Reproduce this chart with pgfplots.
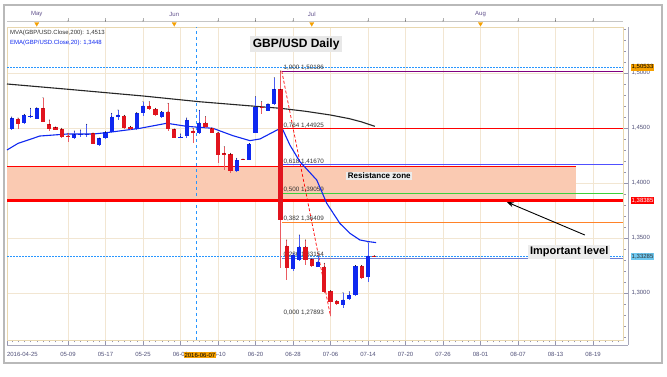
\documentclass[border=0pt]{standalone}
\usepackage{pgfplots}
\pgfplotsset{compat=1.18}
\usepackage{pgfplotstable}
\usepackage{fontspec}
\setmainfont{Liberation Sans}
\usetikzlibrary{arrows.meta}

\definecolor{cblue}{RGB}{15,40,240}
\definecolor{cred}{RGB}{225,20,30}
\definecolor{gridc}{RGB}{242,230,210}
\definecolor{framec}{RGB}{232,215,175}
\definecolor{zonec}{RGB}{250,202,178}
\definecolor{fibpurple}{RGB}{128,0,128}
\definecolor{fibblue}{RGB}{80,80,255}
\definecolor{fibgreen}{RGB}{60,210,60}
\definecolor{fiborange}{RGB}{255,130,40}
\definecolor{fibslate}{RGB}{110,125,210}
\definecolor{labc}{RGB}{80,80,120}
\definecolor{selorange}{RGB}{245,160,0}
\definecolor{curblue}{RGB}{40,150,255}
\definecolor{curbox}{RGB}{110,200,240}
\definecolor{monthc}{RGB}{96,80,140}

\pgfplotstableread{
i o c h l
1 1.4490 1.4588 1.4600 1.4480
3 1.4548 1.4618 1.4625 1.4540
4 1.4603 1.4612 1.4679 1.4594
5 1.4582 1.4679 1.4685 1.4578
11 1.4412 1.4443 1.4473 1.4400
12 1.4436 1.4446 1.4482 1.4421
13 1.4436 1.4446 1.4534 1.4421
15 1.4345 1.4406 1.4410 1.4340
16 1.4406 1.4461 1.4465 1.4400
17 1.4461 1.4603 1.4634 1.4455
18 1.4603 1.4618 1.4664 1.4573
21 1.4488 1.4633 1.4640 1.4480
22 1.4633 1.4700 1.4739 1.4612
25 1.4603 1.4648 1.4650 1.4588
28 1.4412 1.4421 1.4445 1.4405
29 1.4427 1.4573 1.4590 1.4412
31 1.4452 1.4548 1.4661 1.4442
37 1.4112 1.4209 1.4224 1.4103
39 1.4209 1.4355 1.4360 1.4205
40 1.4458 1.4694 1.4785 1.4452
42 1.4655 1.4715 1.4720 1.4650
43 1.4715 1.4852 1.4957 1.4710
46 1.3215 1.3345 1.3360 1.3200
47 1.3300 1.3421 1.3527 1.3290
50 1.3239 1.3285 1.3336 1.3235
54 1.2891 1.2936 1.3003 1.2861
55 1.2943 1.2982 1.3012 1.2940
56 1.2982 1.3245 1.3250 1.2975
58 1.3148 1.3336 1.3457 1.3103
}\bluec

\pgfplotstableread{
i o c h l
2 1.4582 1.4534 1.4590 1.4488
6 1.4679 1.4557 1.4776 1.4550
7 1.4534 1.4488 1.4573 1.4473
8 1.4506 1.4485 1.4510 1.4480
9 1.4488 1.4421 1.4497 1.4412
10 1.4430 1.4421 1.4452 1.4376
14 1.4452 1.4352 1.4455 1.4350
19 1.4612 1.4497 1.4615 1.4490
20 1.4512 1.4488 1.4515 1.4485
23 1.4700 1.4670 1.4739 1.4665
24 1.4673 1.4618 1.4680 1.4610
26 1.4648 1.4488 1.4724 1.4473
27 1.4488 1.4412 1.4490 1.4405
30 1.4473 1.4458 1.4497 1.4361
32 1.4548 1.4512 1.4603 1.4500
33 1.4497 1.4458 1.4500 1.4452
34 1.4458 1.4255 1.4462 1.4179
35 1.4270 1.4255 1.4330 1.4118
36 1.4261 1.4109 1.4270 1.4094
38 1.4215 1.4209 1.4218 1.4205
41 1.4694 1.4679 1.4740 1.4630
44 1.4850 1.3664 1.50186 1.3225
45 1.3427 1.3230 1.3482 1.3118
48 1.3421 1.3300 1.3482 1.3255
49 1.3306 1.3245 1.3310 1.3240
51 1.3239 1.3012 1.3270 1.3000
52 1.3018 1.2921 1.3020 1.27893
53 1.2927 1.2900 1.2930 1.2895
57 1.3245 1.3133 1.3250 1.3125
59 1.3336 1.3328 1.3338 1.3326
}\redc

\pgfplotstableread{
i p
0.24 1.4900
10 1.4852
22 1.4791
31 1.4739
40.7 1.4694
44 1.4679
48 1.4652
52 1.4618
55 1.4585
57 1.4555
59.1 1.4515
}\mva

\pgfplotstableread{
i p
0.24 1.4300
2 1.4360
5.5 1.4427
9.8 1.4445
14 1.4445
16.2 1.4458
21.5 1.4497
25.8 1.4543
29 1.4515
33.2 1.4497
36.4 1.4430
39.1 1.4385
40.7 1.4400
43.4 1.4480
44.2 1.4505
45.5 1.4345
47.1 1.4194
49.8 1.4027
51.4 1.3815
53.5 1.3633
55.1 1.3543
56.7 1.3482
58.1 1.3467
59.3 1.3458
}\ema

\pgfplotsset{
  candle/.style={only marks, mark=*, mark size=0.1pt, mark options={draw=none, fill=none}, forget plot,
    error bars/.cd, y dir=minus, y explicit, error mark=none, error bar style={#1}},
}

\begin{document}
\begin{tikzpicture}
\path[use as bounding box] (0,0) rectangle (667pt,377pt);
\fill[white] (0,0) rectangle (667pt,377pt);
\draw[gray!55, line width=1.2pt] (4pt,14pt) rectangle (662pt,372pt);
\begin{axis}[
  at={(7pt,37pt)}, anchor=south west,
  scale only axis, width=616pt, height=313pt,
  xmin=0.24, xmax=98.8, ymin=1.257273, ymax=1.541818,
  axis line style={draw=framec, line width=0.8pt},
  xtick={0.24,10,16,22,28,34,40,46,52,58,64,70,76,82,88,94},
  xticklabels={\rlap{2016-04-25},05-09,05-17,05-25,06-02,06-10,06-20,06-28,07-06,07-14,07-20,07-26,08-01,08-07,08-13,08-19},
  minor xtick={1,2,...,98},
  ytick={1.30,1.35,1.40,1.45,1.50},
  minor ytick={1.26,1.27,1.28,1.29,1.31,1.32,1.33,1.34,1.36,1.37,1.38,1.39,1.41,1.42,1.43,1.44,1.46,1.47,1.48,1.49,1.51,1.52,1.53,1.54},
  xtick pos=bottom, ytick pos=right, yticklabel pos=right,
  tick align=outside,
  major tick length=5pt, minor tick length=2.5pt,
  grid=major, major grid style={gridc, line width=0.6pt},
  minor grid style={draw=none},
  tick style={labc!60, line width=0.4pt},
  ticklabel style={font=\fontsize{6}{7}\selectfont, text=labc},
  xticklabel style={yshift=-4pt},
  yticklabel style={/pgf/number format/.cd, fixed, fixed zerofill, precision=4, use comma, assume math mode=true},
  scaled y ticks=false,
  clip=false,
]
% resistance zone
\addplot[fill=zonec, draw=none, forget plot] coordinates {(0.24,1.38385) (91.3,1.38385) (91.3,1.4152) (0.24,1.4152)} -- cycle;
\addplot[red, line width=0.6pt, forget plot] coordinates {(0.24,1.4152) (91.3,1.4152)};
% crosshair and current price
\addplot[curblue, dash pattern=on 1.6pt off 1.4pt, line width=0.9pt, forget plot] coordinates {(0.24,1.50533) (98.8,1.50533)};
\addplot[curblue, dashed, line width=0.7pt, forget plot] coordinates {(30.6,1.257273) (30.6,1.541818)};
\addplot[curblue, dash pattern=on 1.6pt off 1.4pt, line width=0.9pt, forget plot] coordinates {(0.24,1.33285) (98.8,1.33285)};
% fib levels
\addplot[fibpurple, line width=0.8pt, forget plot] coordinates {(44.2,1.50186) (98.8,1.50186)};
\addplot[red, line width=0.8pt, forget plot] coordinates {(44.2,1.44925) (98.8,1.44925)};
\addplot[fibblue, line width=0.8pt, forget plot] coordinates {(44.2,1.41670) (98.8,1.41670)};
\addplot[fibgreen, line width=0.8pt, forget plot] coordinates {(44.2,1.39059) (98.8,1.39059)};
\addplot[fiborange, line width=0.8pt, forget plot] coordinates {(44.2,1.36409) (98.8,1.36409)};
\addplot[fibslate, line width=0.8pt, forget plot] coordinates {(44.2,1.33154) (98.8,1.33154)};
\addplot[red, line width=2.6pt, forget plot] coordinates {(0.24,1.38385) (98.8,1.38385)};
\addplot[red, densely dashed, line width=0.7pt, forget plot] coordinates {(44.2,1.50186) (52,1.27893)};
% fib labels
\begin{scope}[every node/.style={anchor=south west, inner sep=0.5pt, font=\fontsize{6.3}{7}\selectfont, text=black!80}]
\node at (axis cs:44.4,1.50186) {1,000 1,50186};
\node at (axis cs:44.4,1.44925) {0,764 1,44925};
\node at (axis cs:44.4,1.41670) {0,618 1,41670};
\node at (axis cs:44.4,1.39059) {0,500 1,39059};
\node at (axis cs:44.4,1.36409) {0,382 1,36409};
\node at (axis cs:44.4,1.33154) {0,236 1,33154};
\node at (axis cs:44.4,1.27893) {0,000 1,27893};
\end{scope}
% moving averages
\addplot[black!85, line width=1.1pt, forget plot] table[x=i, y=p] {\mva};
\addplot[cblue, line width=1.1pt, forget plot] table[x=i, y=p] {\ema};
% candle wicks
\addplot[candle={cblue!75, line width=0.8pt}] table[x=i, y=h, y error minus expr=\thisrow{h}-\thisrow{l}] {\bluec};
\addplot[candle={cred!70, line width=0.8pt}] table[x=i, y=h, y error minus expr=\thisrow{h}-\thisrow{l}] {\redc};
% candle bodies
\addplot[candle={cblue, line width=4.4pt}] table[x=i, y=c, y error minus expr=\thisrow{c}-\thisrow{o}] {\bluec};
\addplot[candle={cred, line width=4.4pt}] table[x=i, y=o, y error minus expr=\thisrow{o}-\thisrow{c}] {\redc};
% header ruler
\addplot[gray!45, line width=0.6pt, forget plot] coordinates {(0.24,1.5473) (98.8,1.5473)};
\addplot[only marks, mark=*, mark size=0.1pt, mark options={draw=none, fill=none}, forget plot, error bars/.cd, y dir=plus, y explicit, error mark=none, error bar style={gray!60, line width=0.4pt}] coordinates {(10,1.5473) += (0,0.0025) (16,1.5473) += (0,0.0025) (22,1.5473) += (0,0.0025) (34,1.5473) += (0,0.0025) (40,1.5473) += (0,0.0025) (46,1.5473) += (0,0.0025) (58,1.5473) += (0,0.0025) (64,1.5473) += (0,0.0025) (70,1.5473) += (0,0.0025) (82,1.5473) += (0,0.0025) (88,1.5473) += (0,0.0025) (94,1.5473) += (0,0.0025)};
\addplot[only marks, mark=triangle*, mark size=2.4pt, mark options={rotate=180, fill=selorange, draw=selorange}, forget plot] coordinates {(5,1.5448) (27,1.5448) (49,1.5448) (76,1.5448)};
\begin{scope}[every node/.style={inner sep=0pt, font=\fontsize{6}{7}\selectfont, text=monthc}]
\node at (axis cs:5,1.5536) {May};
\node at (axis cs:27,1.5536) {Jun};
\node at (axis cs:49,1.5536) {Jul};
\node at (axis cs:76,1.5536) {Aug};
\end{scope}
% legend texts
\node[anchor=west, inner sep=0pt, font=\fontsize{6}{7}\selectfont, text=black!80] at (axis cs:0.72,1.5364) {MVA(GBP/USD.Close,200): 1,4513};
\node[anchor=west, inner sep=0pt, font=\fontsize{6}{7}\selectfont, text=cblue] at (axis cs:0.72,1.5273) {EMA(GBP/USD.Close,20): 1,3448};
% title and annotations
\node[fill=gray!18, inner sep=2.5pt, font=\bfseries\fontsize{12}{14}\selectfont] at (axis cs:46.5,1.5264) {GBP/USD Daily};
\node[fill=gray!15, inner sep=1.5pt, font=\bfseries\fontsize{8}{9}\selectfont] at (axis cs:59.8,1.4064) {Resistance zone};
\node[fill=gray!15, inner sep=2pt, font=\bfseries\fontsize{11}{13}\selectfont] at (axis cs:90.2,1.3373) {Important level};
\addplot[black, line width=0.9pt, -{Stealth[length=7pt,width=5pt]}, forget plot] coordinates {(92.7,1.3527) (80.2,1.3827)};
\coordinate (sw) at (rel axis cs:0,0);
\coordinate (se) at (rel axis cs:1,0);
\coordinate (ne) at (rel axis cs:1,1);
\coordinate (sel) at (axis cs:31.1,1.257273);
\coordinate (r1) at (axis cs:98.8,1.50533);
\coordinate (r2) at (axis cs:98.8,1.38385);
\coordinate (r3) at (axis cs:98.8,1.33285);
\end{axis}
\draw[labc!50, line width=0.5pt] ([xshift=5pt,yshift=-5pt]se) -- ([xshift=5pt]ne);
\draw[labc!50, line width=0.5pt] ([yshift=-5pt]sw) -- ([xshift=5pt,yshift=-5pt]se);
\node[fill=selorange, inner sep=1pt, font=\fontsize{6}{7}\selectfont, text=black] at ([yshift=-15pt]sel) {2016-06-07};
\node[fill=selorange, anchor=west, inner sep=1pt, font=\fontsize{6}{7}\selectfont, text=black] at ([xshift=7.5pt]r1) {1,50533};
\node[fill=red, anchor=west, inner sep=1pt, font=\fontsize{6}{7}\selectfont, text=white] at ([xshift=7.5pt]r2) {1,38385};
\node[fill=curbox, anchor=west, inner sep=1pt, font=\fontsize{6}{7}\selectfont, text=black!80] at ([xshift=7.5pt]r3) {1,33285};
\end{tikzpicture}
\end{document}
